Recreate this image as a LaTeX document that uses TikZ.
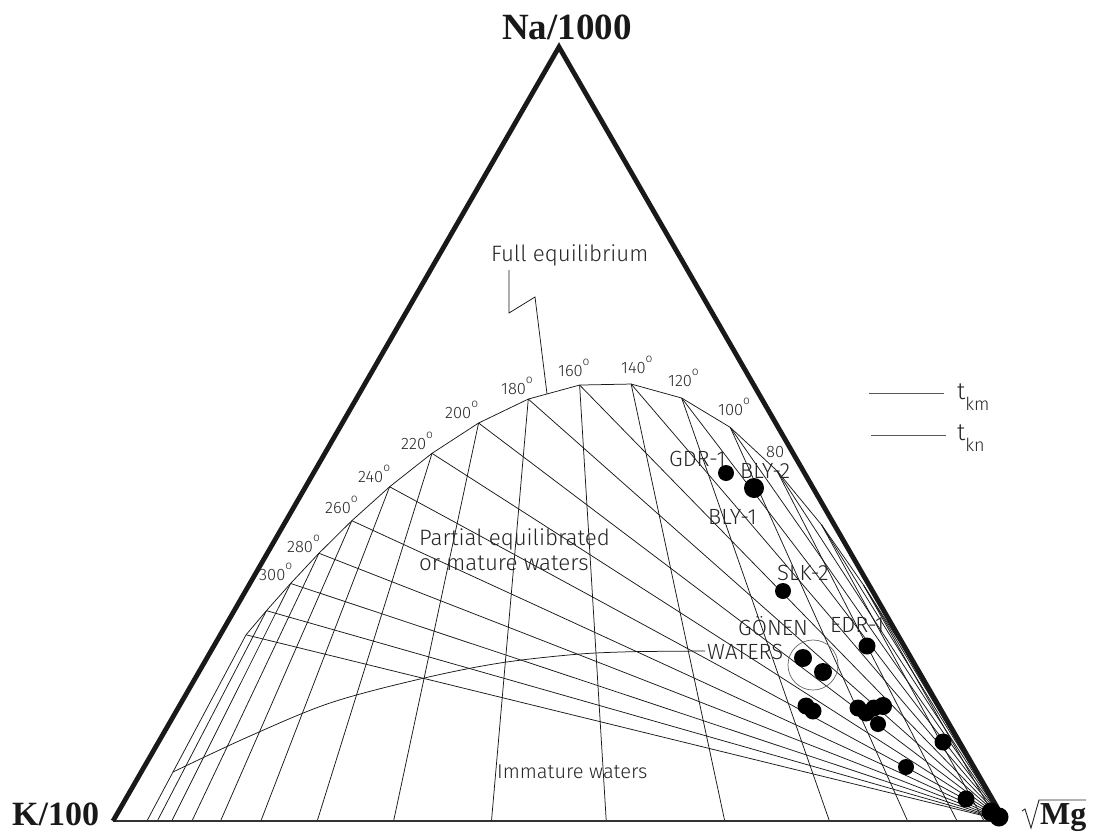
\documentclass[tikz,border=0pt]{standalone}
\usepackage{fontspec}
\setmainfont{Fira Sans Light}
\newfontfamily\vtxfont{Liberation Serif}
\begin{document}
\newcommand\tdeg{\raisebox{0.62em}{\fontsize{12}{12}\selectfont o}}
\begin{tikzpicture}[x=1pt,y=-1pt,
  grid/.style={line width=0.75pt, black!90},
  tri/.style={line width=4.8pt, black!90},
  basel/.style={line width=2.8pt, black!80},
  lab/.style={inner sep=0pt, anchor=base west, text=black!85, font=\fontsize{22.3}{22.3}\selectfont},
  slab/.style={inner sep=0pt, anchor=base west, text=black!85, font=\fontsize{22}{22}\selectfont},
  tlab/.style={inner sep=0pt, anchor=base west, text=black!85, font=\fontsize{16.5}{16.5}\selectfont},
  vtx/.style={inner sep=0pt, anchor=base west, text=black!90},
  sdot/.style={circle, fill=black, inner sep=0pt, minimum size=#1},
  sdot/.default=17pt,
  legline/.style={line width=1pt, black!65}]
\useasboundingbox (0,0) rectangle (1093,838);
\fill[white] (0,0) rectangle (1093,838);
\coordinate (A) at (559,47);
\coordinate (K) at (113,821);
\coordinate (M) at (1005,821);
% isotherm lines
\foreach \t in {20,40,...,340}{
  \pgfmathsetmacro\KK{exp(2.302585*(2.75-1390/(\t+273)))}
  \pgfmathsetmacro\MG{exp(2.302585*(815/(\t+273)-2.25))}
  \coordinate (p\t) at (barycentric cs:A=1,K=\KK,M=\MG);
  \coordinate (b\t) at (barycentric cs:K=\KK,M=\MG);
  \draw[grid] (p\t) -- (b\t);
  \draw[grid] (p\t) -- (M);
}
% full equilibrium curve
\foreach \t [remember=\t as \tp (initially 20)] in {40,60,...,340}
  \draw[grid] (p\tp) -- (p\t);
% immature waters boundary
\coordinate (im1) at (173,772);
\coordinate (im2) at (705,651);
\draw[grid] plot[smooth, tension=0.55] coordinates {(im1) (250,736) (330,703) (420,679) (500,663) (580,654) (640,651.5)} -- (im2);
% triangle
\draw[basel] (K) -- (M);
\draw[tri, line join=miter] (K) -- (A) -- (M);
% vertex labels
\node[vtx, font=\vtxfont\bfseries\fontsize{37}{37}\selectfont] (na) at (502,39) {Na/1000};
\node[vtx, font=\vtxfont\bfseries\fontsize{34}{34}\selectfont] (k) at (12,825) {K/100};
\node[vtx, font=\vtxfont\bfseries\fontsize{32}{32}\selectfont] (mg) at (1040,824) {Mg};
\draw[line width=0.9pt, black!85] (1022,811) -- (1025,809) -- (1031,828) -- (1039,800) -- (1086,800);
% full equilibrium label and leader
\node[lab] (fe) at (491,261) {Full equilibrium};
\coordinate (fe1) at (509,270);
\coordinate (fe2) at (547,394);
\draw[grid] (fe1) -- (509,313) -- (535,297) -- (fe2);
% temperature labels
\node[tlab] (t300) at (259,580) {300\tdeg};
\node[tlab] (t280) at (287,552) {280\tdeg};
\node[tlab] (t260) at (325,513) {260\tdeg};
\node[tlab] (t240) at (358,482) {240\tdeg};
\node[tlab] (t220) at (401,449) {220\tdeg};
\node[tlab] (t200) at (445,418) {200\tdeg};
\node[tlab] (t180) at (501,394) {180\tdeg};
\node[tlab] (t160) at (558,376) {160\tdeg};
\node[tlab] (t140) at (621,373) {140\tdeg};
\node[tlab] (t120) at (668,386) {120\tdeg};
\node[tlab] (t100) at (718,415) {100\tdeg};
\node[tlab] (t80) at (766,457) {80};
% region labels
\node[lab] (pe1) at (419,545) {Partial equilibrated};
\node[lab] (pe2) at (419,570) {or mature waters};
\node[lab, font=\fontsize{20}{20}\selectfont] (imm) at (497,778) {Immature waters};
% legend
\coordinate (l1a) at (869,393); \coordinate (l1b) at (944,393);
\coordinate (l2a) at (871,435); \coordinate (l2b) at (946,435);
\draw[legline] (l1a) -- (l1b);
\draw[legline] (l2a) -- (l2b);
\node[lab, font=\fontsize{24}{24}\selectfont] (tkm) at (957,399) {t\raisebox{-11pt}{\fontsize{18}{18}\selectfont km}};
\node[lab, font=\fontsize{24}{24}\selectfont] (tkn) at (957,440) {t\raisebox{-11pt}{\fontsize{18}{18}\selectfont kn}};
% Gonen circle
\draw[line width=0.7pt, black!60] (813,665) circle[radius=25pt];
% samples
\node[sdot=16pt] (gdr1) at (726,473) {};
\node[sdot=20pt] (bly2) at (754,488) {};
\node[sdot=16pt] (slk2) at (783,591) {};
\node[sdot=17pt] (edr1) at (867,646) {};
\node[sdot=18pt] (g1) at (803,658) {};
\node[sdot=18pt] (g2) at (823,672) {};
\node[sdot] (s1) at (806,706) {};
\node[sdot] (s2) at (813,711) {};
\node[sdot] (s3) at (858,708) {};
\node[sdot] (s4) at (866,713) {};
\node[sdot] (s5) at (874,708) {};
\node[sdot=18pt] (s6) at (883,706) {};
\node[sdot=16pt] (s7) at (878,724) {};
\node[sdot] (s8) at (943,742) {};
\node[sdot=16pt] (s9) at (906,767) {};
\node[sdot] (s10) at (966,799) {};
\node[sdot=19pt] (s11) at (991,812) {};
\node[sdot=19pt] (s12) at (999,817) {};
% sample labels
\node[slab] (lgdr) at (669,466) {GDR-1};
\node[slab] (lbly2) at (740,478) {BLY-2};
\node[slab] (lbly1) at (708,524) {BLY-1};
\node[slab] (lslk) at (777,580) {SLK-2};
\node[slab] (lgon) at (738,635) {GÖNEN};
\node[slab] (lwat) at (707,659) {WATERS};
\node[slab] (ledr) at (830,632) {EDR-1};
\end{tikzpicture}
\end{document}
